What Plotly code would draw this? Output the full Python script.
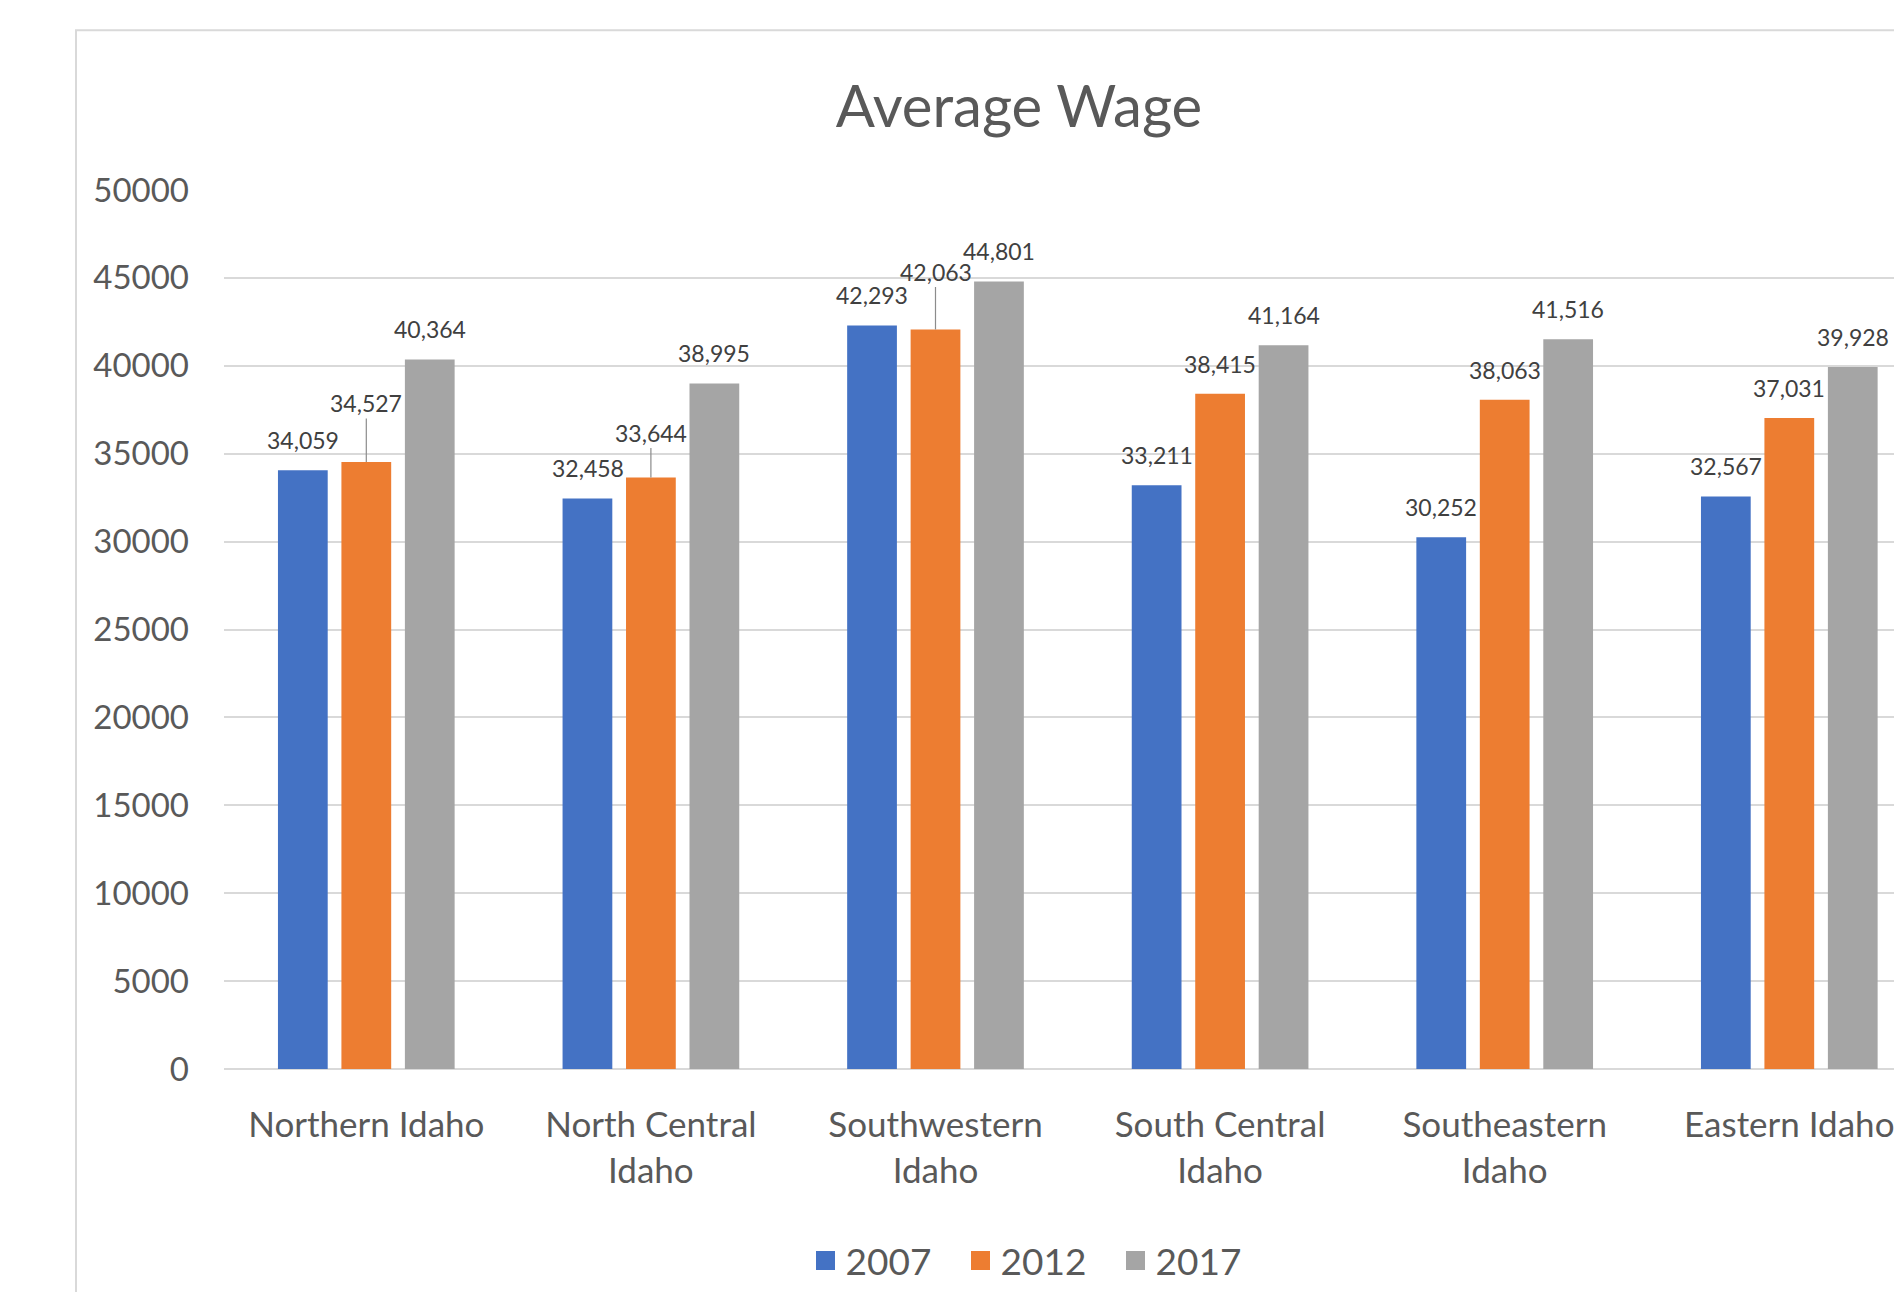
import plotly.graph_objects as go

regions = ["Northern Idaho", "North Central<br>Idaho", "Southwestern<br>Idaho",
           "South Central<br>Idaho", "Southeastern<br>Idaho", "Eastern Idaho"]
years = ["2007", "2012", "2017"]
wage_2007 = [34059, 32458, 42293, 33211, 30252, 32567]
wage_2012 = [34527, 33644, 42063, 38415, 38063, 37031]
wage_2017 = [40364, 38995, 44801, 41164, 41516, 39928]
y_ticks = [0, 5000, 10000, 15000, 20000, 25000, 30000, 35000, 40000, 45000, 50000]

series = [wage_2007, wage_2012, wage_2017]
colors = ["#4472C4", "#ED7D31", "#A5A5A5"]

FONT = "Lato"
W, H = 1886, 1284
ML, MT = 216, 182
PLOT_H = 880
MB = H - MT - PLOT_H
BAND = 284.6
plot_w = W - ML
x_hi = -0.5 + plot_w / BAND
SLOT = 63.4

fig = go.Figure()
for name, vals, col in zip(years, series, colors):
    fig.add_trace(go.Bar(name=name, x=regions, y=vals, marker=dict(color=col, line=dict(width=0)),
                         hoverinfo="x+y", showlegend=False, legendgroup=name))
# legend entries (square swatches)
for name, col in zip(years, colors):
    fig.add_trace(go.Scatter(name=name, x=[None], y=[None], mode="markers",
                             marker=dict(symbol="square", size=16, color=col,
                                         line=dict(width=3, color=col)),
                             legendgroup=name, showlegend=True, hoverinfo="skip"))

# label placement (pixels above bar top); leader-lined labels get larger offsets
leader = {(0, 1): 59, (1, 1): 45, (2, 1): 58}
annotations = []
for j, vals in enumerate(series):
    for i, v in enumerate(vals):
        txt = f"{v:,}"
        if (i, j) in leader:
            annotations.append(dict(x=regions[i], y=v, xref="x", yref="y", text=txt,
                                    showarrow=True, arrowhead=0, arrowwidth=1.2,
                                    arrowcolor="#8C8C8C", ax=0, ay=-leader[(i, j)],
                                    standoff=0, xshift=(j - 1) * SLOT,
                                    font=dict(family=FONT, size=23, color="#404040")))
        else:
            annotations.append(dict(x=regions[i], y=v, xref="x", yref="y", text=txt,
                                    showarrow=False, yanchor="middle", yshift=30,
                                    xshift=(j - 1) * SLOT,
                                    font=dict(family=FONT, size=23, color="#404040")))

fig.update_layout(
    width=W, height=H,
    margin=dict(l=ML, r=0, t=MT, b=MB, pad=0),
    paper_bgcolor="white", plot_bgcolor="white",
    barmode="group", bargap=0.331, bargroupgap=0.216,
    title=dict(text="Average Wage", x=1011 / W, xref="container", xanchor="center",
               y=1 - 99 / H, yref="container", yanchor="middle",
               font=dict(family=FONT, size=58, color="#595959")),
    font=dict(family=FONT, color="#595959"),
    xaxis=dict(range=[-0.5, x_hi], showgrid=False, showline=False, zeroline=False,
               ticks="", tickfont=dict(family=FONT, size=35, color="#595959"),
               ticklabelstandoff=32),
    yaxis=dict(range=[0, 50000], tickvals=y_ticks, tickformat="d",
               showgrid=True, gridcolor="#D9D9D9", gridwidth=1.5,
               zeroline=True, zerolinecolor="#D9D9D9", zerolinewidth=1.5,
               showline=False, ticks="", ticklabelstandoff=34,
               tickfont=dict(family=FONT, size=33, color="#595959")),
    legend=dict(orientation="h", xref="paper", x=(1030 - ML) / plot_w, xanchor="center",
                yref="paper", y=(1062 - 1254) / PLOT_H,
                yanchor="middle", font=dict(family=FONT, size=37, color="#595959"),
                entrywidth=110, itemwidth=30, bgcolor="rgba(0,0,0,0)"),
    annotations=annotations,
    shapes=[dict(type="rect", xref="paper", yref="paper",
                 x0=(68 - ML) / plot_w, x1=1.2,
                 y0=-0.5, y1=(1062 - 22) / PLOT_H,
                 line=dict(color="#D9D9D9", width=2), fillcolor="rgba(0,0,0,0)", layer="below")],
)

fig.write_html("out.html")
